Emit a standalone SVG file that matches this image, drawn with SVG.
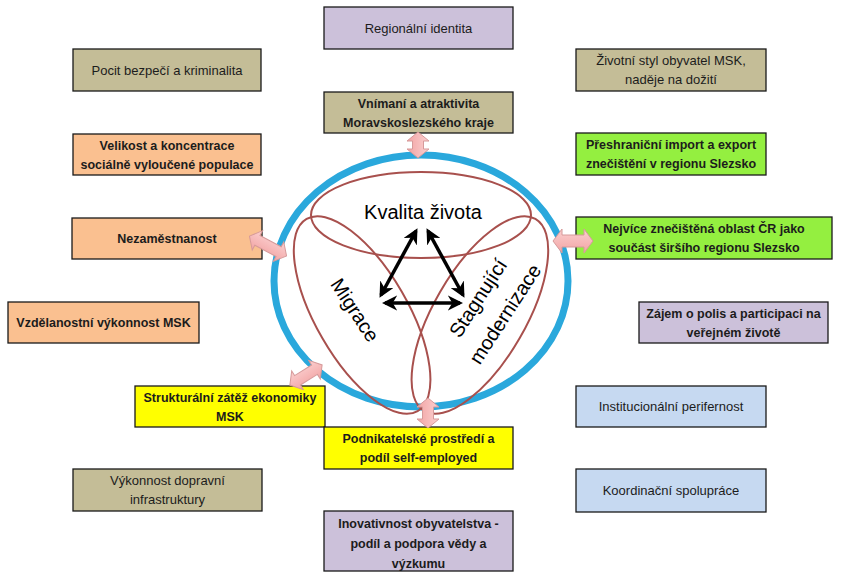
<svg xmlns="http://www.w3.org/2000/svg" width="841" height="577" viewBox="0 0 841 577">
<style>
.box{stroke:#1a1a1a;stroke-width:1.3}
.tan{fill:#c4bd97}.pur{fill:#ccc1da}.ora{fill:#fac090}.grn{fill:#94ef40}.yel{fill:#ffff00}.blu{fill:#c6d9f1}
text{font-family:"Liberation Sans",Arial,sans-serif;fill:#1c1c1c;text-anchor:middle}
.r{font-size:13px}.b{font-size:12.5px;font-weight:bold}
.big{font-size:20px;fill:#000}
.lobe{fill:none;stroke:#a8504d;stroke-width:2}
.pink{fill:url(#pg);stroke:#d69a9a;stroke-width:1}
.tri{stroke:#000;stroke-width:3.5;fill:none;marker-start:url(#ah);marker-end:url(#ah)}
</style>
<defs>
<linearGradient id="pg" x1="0" y1="0" x2="0" y2="1">
<stop offset="0" stop-color="#fbd0d0"/><stop offset="1" stop-color="#f2a4a4"/>
</linearGradient>
<marker id="ah" viewBox="0 0 10 10" refX="8" refY="5" markerWidth="4.4" markerHeight="4.4" orient="auto-start-reverse">
<path d="M0,0 L10,5 L0,10 L3,5 Z" fill="#000"/>
</marker>
</defs>
<rect width="841" height="577" fill="#fff"/>

<g id="center">
<ellipse cx="421" cy="281" rx="147" ry="126" fill="none" stroke="#2aa8dc" stroke-width="7"/>
<ellipse class="lobe" cx="421" cy="215" rx="110" ry="43"/>
<ellipse class="lobe" cx="421" cy="213" rx="111" ry="46" transform="rotate(-120 421 281)"/>
<ellipse class="lobe" cx="421" cy="213" rx="111" ry="46" transform="rotate(120 421 281)"/>
<text class="big" x="423" y="219">Kvalita života</text>
<text class="big" transform="translate(355,310) rotate(57)" y="7">Migrace</text>
<text class="big" transform="translate(478,298) rotate(-57)" y="7">Stagnující</text>
<text class="big" transform="translate(505,314) rotate(-57)" y="7">modernizace</text>
</g>

<g id="n-regionalni"><rect class="box pur" x="324" y="7" width="189" height="42"/><text class="r" x="418.5" y="32.5">Regionální identita</text></g>
<g id="n-pocit"><rect class="box tan" x="73" y="49" width="188" height="42"/><text class="r" x="167" y="74.5">Pocit bezpečí a kriminalita</text></g>
<g id="n-zivotni"><rect class="box tan" x="576" y="49" width="190" height="42"/><text class="r" x="671" y="64.5">Životní styl obyvatel MSK,</text><text class="r" x="671" y="84">naděje na dožití</text></g>
<g id="n-vnimani"><rect class="box tan" x="324" y="92" width="189" height="41"/><text class="b" x="418.5" y="107.5">Vnímaní a atraktivita</text><text class="b" x="418.5" y="127">Moravskoslezského kraje</text></g>
<g id="n-velikost"><rect class="box ora" x="73" y="134" width="188" height="41"/><text class="b" x="167" y="149.5">Velikost a koncentrace</text><text class="b" x="167" y="169">sociálně vyloučené populace</text></g>
<g id="n-preshranicni"><rect class="box grn" x="576" y="133" width="190" height="42"/><text class="b" x="671" y="148.5">Přeshraniční import a export</text><text class="b" x="671" y="168">znečištění v regionu Slezsko</text></g>
<g id="n-nezamestnanost"><rect class="box ora" x="72" y="218" width="190" height="41"/><text class="b" x="167" y="243">Nezaměstnanost</text></g>
<g id="n-nejvice"><rect class="box grn" x="576" y="217" width="256" height="42"/><text class="b" x="704" y="232.5">Nejvíce znečištěná oblast ČR jako</text><text class="b" x="704" y="252">součást širšího regionu Slezsko</text></g>
<g id="n-vzdelanostni"><rect class="box ora" x="8" y="302" width="191" height="41"/><text class="b" x="103.5" y="327">Vzdělanostní výkonnost MSK</text></g>
<g id="n-zajem"><rect class="box pur" x="639" y="302" width="189" height="41"/><text class="b" x="733.5" y="317.5">Zájem o polis a participaci na</text><text class="b" x="733.5" y="337">veřejném životě</text></g>
<g id="n-strukturalni"><rect class="box yel" x="135" y="386" width="190" height="41"/><text class="b" x="230" y="401.5">Strukturální zátěž ekonomiky</text><text class="b" x="230" y="421">MSK</text></g>
<g id="n-institucionalni"><rect class="box blu" x="576" y="386" width="190" height="41"/><text class="r" x="671" y="411">Institucionální perifernost</text></g>
<g id="n-podnikatelske"><rect class="box yel" x="324" y="427" width="189" height="42"/><text class="b" x="418.5" y="442.5">Podnikatelské prostředí a</text><text class="b" x="418.5" y="462">podíl self-employed</text></g>
<g id="n-vykonnost"><rect class="box tan" x="73" y="469" width="189" height="42"/><text class="r" x="167.5" y="484.5">Výkonnost dopravní</text><text class="r" x="167.5" y="504">infrastruktury</text></g>
<g id="n-koordinacni"><rect class="box blu" x="576" y="469" width="190" height="43"/><text class="r" x="671" y="495">Koordinační spolupráce</text></g>
<g id="n-inovativnost"><rect class="box pur" x="324" y="511" width="189" height="60"/><text class="b" x="418.5" y="527.5">Inovativnost obyvatelstva -</text><text class="b" x="418.5" y="547.5">podíl a podpora vědy a</text><text class="b" x="418.5" y="567.5">výzkumu</text></g>

<g id="connectors">
<line class="tri" x1="416" y1="231" x2="381" y2="295"/>
<line class="tri" x1="428" y1="231" x2="463" y2="295"/>
<line class="tri" x1="385" y1="303" x2="460" y2="303"/>
<path class="pink" transform="translate(418,145) rotate(90)" d="M-13,0 L-4,-11 L-4,-5.5 L4,-5.5 L4,-11 L13,0 L4,11 L4,5.5 L-4,5.5 L-4,11Z"/>
<path class="pink" transform="translate(428,413) rotate(90)" d="M-15,0 L-6,-11 L-6,-5.5 L6,-5.5 L6,-11 L15,0 L6,11 L6,5.5 L-6,5.5 L-6,11Z"/>
<path class="pink" transform="translate(573,241)" d="M-20,0 L-11,-12 L-11,-6 L11,-6 L11,-12 L20,0 L11,12 L11,6 L-11,6 L-11,12Z"/>
<path class="pink" transform="translate(268,246) rotate(28)" d="M-21,0 L-12,-11 L-12,-5.5 L12,-5.5 L12,-11 L21,0 L12,11 L12,5.5 L-12,5.5 L-12,11Z"/>
<path class="pink" transform="translate(306,375) rotate(-32)" d="M-19,0 L-10,-11 L-10,-5.5 L10,-5.5 L10,-11 L19,0 L10,11 L10,5.5 L-10,5.5 L-10,11Z"/>
</g>
</svg>
